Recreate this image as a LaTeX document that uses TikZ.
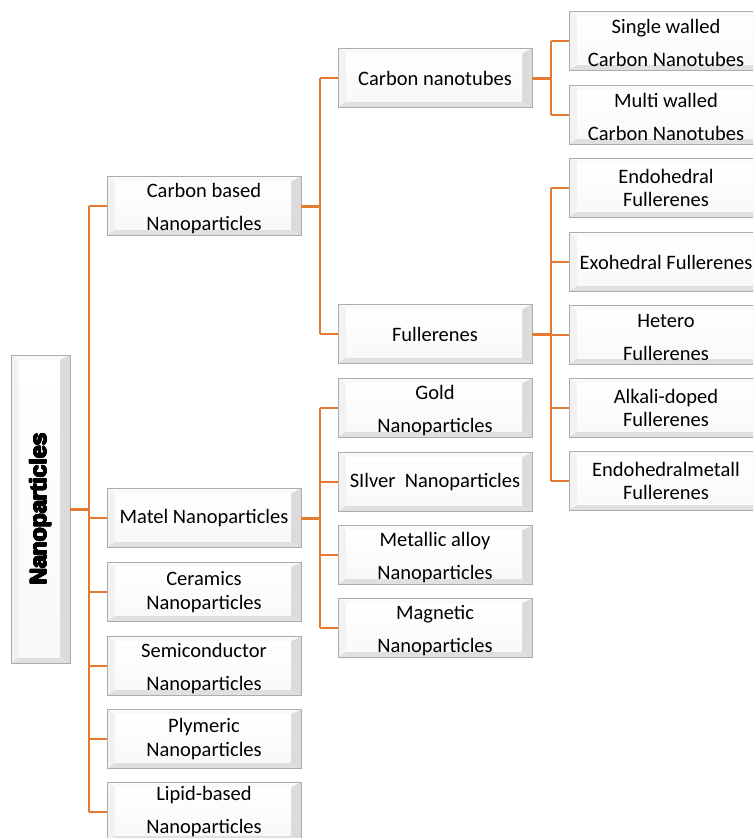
\documentclass[tikz,border=0pt]{standalone}
\usepackage{fontspec}
\usepackage{contour}
\contourlength{0.55pt}
\contournumber{16}
\setmainfont{Carlito}
\newfontfamily\titlefont{Liberation Sans}
\definecolor{lineor}{RGB}{228,121,50}
\newcommand\boxfont{\fontsize{20.5}{23.5}\selectfont}
\newcommand\topstrut{\rule{0pt}{18.3pt}}
\tikzset{
  bev/.style={draw=gray!65, line width=0.8pt, fill=gray!14, minimum width=194pt,
    minimum height=59pt, inner sep=0pt, align=center, font=\boxfont,
    path picture={
      \fill[gray!5] (path picture bounding box.north west) -- (path picture bounding box.north east)
        -- ([shift={(-10pt,-5pt)}]path picture bounding box.north east)
        -- ([shift={(8pt,-5pt)}]path picture bounding box.north west) -- cycle;
      \fill[gray!28] (path picture bounding box.north east) -- (path picture bounding box.south east)
        -- ([shift={(-10pt,6pt)}]path picture bounding box.south east)
        -- ([shift={(-10pt,-5pt)}]path picture bounding box.north east) -- cycle;
      \fill[gray!24] (path picture bounding box.south west) -- (path picture bounding box.south east)
        -- ([shift={(-10pt,6pt)}]path picture bounding box.south east)
        -- ([shift={(8pt,6pt)}]path picture bounding box.south west) -- cycle;
      \fill[gray!10] (path picture bounding box.north west) -- (path picture bounding box.south west)
        -- ([shift={(8pt,6pt)}]path picture bounding box.south west)
        -- ([shift={(8pt,-5pt)}]path picture bounding box.north west) -- cycle;
      \shade[top color=white, bottom color=gray!5]
        ([shift={(8pt,6pt)}]path picture bounding box.south west) rectangle
        ([shift={(-10pt,-5pt)}]path picture bounding box.north east);
    }},
  branch/.style={draw=lineor, line width=1.6pt},
  stub/.style={draw=lineor, line width=3pt},
}
\begin{document}
\begin{tikzpicture}[x=1pt,y=-1pt]
\useasboundingbox (0,0) rectangle (753,838);
\clip (0,0) rectangle (753,838);

% root
\node[bev, minimum width=59pt, minimum height=308pt] (root) at (40.5,509) {};
\node[rotate=90, font=\titlefont\bfseries\fontsize{23}{28}\selectfont] (roottxt) at (root.center)
  {\contour{black}{Nanoparticles}};

% level 1
\node[bev] (cb)  at (204,206) {\topstrut Carbon based\\[9.5pt]Nanoparticles};
\node[bev] (mat) at (204,518) {Matel Nanoparticles};
\node[bev] (cer) at (204,592) {Ceramics\\Nanoparticles};
\node[bev] (sem) at (204,666) {\topstrut Semiconductor\\[9.5pt]Nanoparticles};
\node[bev] (ply) at (204,739) {Plymeric\\Nanoparticles};
\node[bev] (lip) at (204,812) {\rule{0pt}{12pt}Lipid-based\\[9.5pt]Nanoparticles};

% level 2
\node[bev] (cnt)   at (435,78)  {Carbon nanotubes};
\node[bev] (ful)   at (435,334) {Fullerenes};
\node[bev] (gold)  at (435,408) {\topstrut Gold\\[9.5pt]Nanoparticles};
\node[bev] (silv)  at (435,482) {SIlver\ \ Nanoparticles};
\node[bev] (alloy) at (435,555) {\topstrut Metallic alloy\\[9.5pt]Nanoparticles};
\node[bev] (mag)   at (435,628) {\topstrut Magnetic\\[9.5pt]Nanoparticles};

% level 3
\node[bev] (sw)   at (666,41)  {\topstrut Single walled\\[9.5pt]Carbon Nanotubes};
\node[bev] (mw)   at (666,115) {\topstrut Multi walled\\[9.5pt]Carbon Nanotubes};
\node[bev] (endo) at (666,188) {Endohedral\\Fullerenes};
\node[bev] (exo)  at (666,262) {Exohedral Fullerenes};
\node[bev] (het)  at (666,335) {\topstrut Hetero\\[9.5pt]Fullerenes};
\node[bev] (alk)  at (666,408) {Alkali-doped\\Fullerenes};
\node[bev] (endm) at (666,481) {Endohedralmetall\\Fullerenes};

% junctions
\coordinate (j0) at (89,509);
\coordinate (j1) at (320,206);
\coordinate (j2) at (320,518);
\coordinate (j3) at (551,78);
\coordinate (j4) at (551,334);

% root tree
\draw[branch] (j0 |- cb.west) -- (j0 |- lip.west);
\foreach \n in {cb,mat,cer,sem,ply,lip} \draw[branch] (j0 |- \n.west) -- (\n.west);
\draw[stub] (root.east) -- (j0);

% carbon based
\draw[branch] (j1 |- cnt.west) -- (j1 |- ful.west);
\foreach \n in {cnt,ful} \draw[branch] (j1 |- \n.west) -- (\n.west);
\draw[stub] (cb.east) -- (j1);

% metal
\draw[branch] (j2 |- gold.west) -- (j2 |- mag.west);
\foreach \n in {gold,silv,alloy,mag} \draw[branch] (j2 |- \n.west) -- (\n.west);
\draw[stub] (mat.east) -- (j2);

% nanotubes
\draw[branch] (j3 |- sw.west) -- (j3 |- mw.west);
\foreach \n in {sw,mw} \draw[branch] (j3 |- \n.west) -- (\n.west);
\draw[stub] (cnt.east) -- (j3);

% fullerenes
\draw[branch] (j4 |- endo.west) -- (j4 |- endm.west);
\foreach \n in {endo,exo,het,alk,endm} \draw[branch] (j4 |- \n.west) -- (\n.west);
\draw[stub] (ful.east) -- (j4);
\end{tikzpicture}
\end{document}
